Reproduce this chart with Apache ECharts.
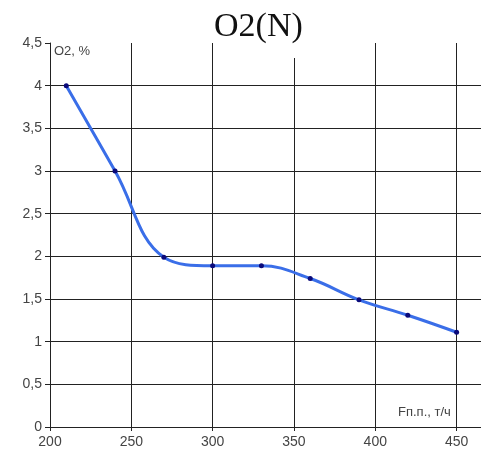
<!DOCTYPE html>
<html><head><meta charset="utf-8">
<script src="https://cdn.jsdelivr.net/npm/echarts@6/dist/echarts.min.js"></script>
<style>html,body{margin:0;padding:0;background:#fff}#c{width:481px;height:460px}</style>
</head><body><div id="c"></div>
<script>
const flowValues = [210, 240, 270, 300, 330, 360, 390, 420, 450];
const o2Values = [4.0, 3.0, 1.99, 1.89, 1.89, 1.74, 1.49, 1.31, 1.11];
const xTickLabels = ['200', '250', '300', '350', '400', '450'];
const yTickLabels = ['0', '0,5', '1', '1,5', '2', '2,5', '3', '3,5', '4', '4,5'];
const titleText = 'O2(N)';
const yName = 'O2, %';
const xName = 'Fп.п., т/ч';

const chart = echarts.init(document.getElementById('c'), null, {renderer: 'canvas'});
const labelFont = {color: '#444', fontFamily: 'Liberation Sans, Arial, sans-serif', fontSize: 14};
chart.setOption({
  animation: false,
  backgroundColor: '#fff',
  title: {
    text: titleText, left: 214, top: 10,
    padding: [0, 8, 14, 0], backgroundColor: '#fff',
    textStyle: {fontFamily: 'Liberation Serif, Times New Roman, serif', fontSize: 34, lineHeight: 34, fontWeight: 'normal', color: '#111'}
  },
  grid: {left: 50, right: 0, top: 43, bottom: 33},
  xAxis: {
    type: 'value', min: 200, max: 465, interval: 50,
    axisLine: {show: true, onZero: false, lineStyle: {color: '#222', width: 1}},
    axisTick: {show: true, length: 4, lineStyle: {color: '#222'}},
    axisLabel: Object.assign({margin: 8, showMaxLabel: false,
      formatter: v => { const i = xTickLabels.indexOf(String(v)); return i >= 0 ? xTickLabels[i] : ''; }}, labelFont),
    splitLine: {show: true, showMinLine: false, showMaxLine: false, lineStyle: {color: '#222', width: 1}}
  },
  yAxis: {
    type: 'value', min: 0, max: 4.5, interval: 0.5,
    axisLine: {show: true, lineStyle: {color: '#222', width: 1}},
    axisTick: {show: true, length: 5, lineStyle: {color: '#222'}},
    axisLabel: Object.assign({margin: 8,
      formatter: v => yTickLabels[Math.round(v * 2)] }, labelFont),
    splitLine: {show: true, showMinLine: false, showMaxLine: false, lineStyle: {color: '#222', width: 1}}
  },
  graphic: [
    {type: 'text', left: 54, top: 45, style: {text: yName, fill: '#444', font: '13px Liberation Sans, Arial, sans-serif'}},
    {type: 'text', left: 398, top: 406, style: {text: xName, fill: '#444', font: '13px Liberation Sans, Arial, sans-serif'}}
  ],
  series: [{
    type: 'line',
    data: flowValues.map((x, i) => [x, o2Values[i]]),
    smooth: 0.4,
    symbol: 'circle', symbolSize: 5,
    itemStyle: {color: '#0a0a7a'},
    lineStyle: {color: '#3a6ee8', width: 3},
    z: 3
  }]
});
</script></body></html>
